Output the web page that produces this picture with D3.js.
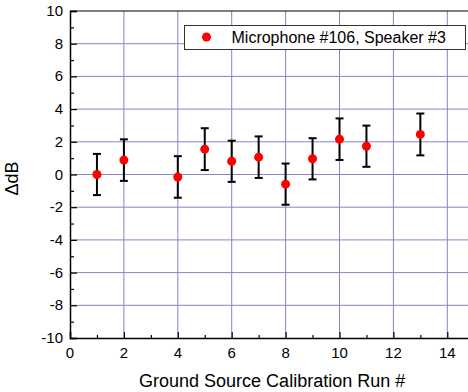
<!DOCTYPE html>
<html>
<head>
<meta charset="utf-8">
<script src="https://cdn.jsdelivr.net/npm/d3@7"></script>
<style>
  body { margin: 0; background: #fff; }
  svg { display: block; font-family: "Liberation Sans", Arial, sans-serif; }
</style>
</head>
<body>
<div id="chart"></div>
<script>
var runs = [1, 2, 4, 5, 6, 7, 8, 9, 10, 11, 13];
var deltaDb = [0.0, 0.88, -0.15, 1.55, 0.81, 1.06, -0.59, 0.96, 2.16, 1.73, 2.45];
var errDb = [1.26, 1.27, 1.27, 1.28, 1.26, 1.27, 1.26, 1.26, 1.27, 1.26, 1.28];
var xTicks = [0, 2, 4, 6, 8, 10, 12, 14];
var yTicks = [-10, -8, -6, -4, -2, 0, 2, 4, 6, 8, 10];
var seriesName = "Microphone #106, Speaker #3";

var width = 468, height = 392;
var margin = { top: 11, left: 70, bottom: 54 };
var plotBottom = height - margin.bottom;

var svg = d3.select("#chart").append("svg")
    .attr("width", width)
    .attr("height", height);

var x = d3.scaleLinear().domain([0, 15]).range([margin.left, margin.left + 15 * 26.95]);
var y = d3.scaleLinear().domain([-10, 10]).range([plotBottom, margin.top]);

var gridColor = "#8585c8";

// grid
svg.append("g").selectAll("line").data(yTicks.filter(function(d) { return d > -10 && d < 10; }))
    .enter().append("line")
    .attr("x1", margin.left).attr("x2", width)
    .attr("y1", function(d) { return y(d); }).attr("y2", function(d) { return y(d); })
    .attr("stroke", gridColor).attr("stroke-width", 1);
svg.append("g").selectAll("line").data(xTicks.filter(function(d) { return d > 0; }))
    .enter().append("line")
    .attr("y1", margin.top).attr("y2", plotBottom)
    .attr("x1", function(d) { return x(d); }).attr("x2", function(d) { return x(d); })
    .attr("stroke", gridColor).attr("stroke-width", 1);

// axes (ticks point inward)
svg.append("g")
    .attr("transform", "translate(" + margin.left + ",0)")
    .call(d3.axisRight(y).tickValues(yTicks).tickSize(7).tickFormat(""));
svg.append("g")
    .attr("transform", "translate(" + margin.left + ",0)")
    .call(d3.axisRight(y).tickValues(d3.range(-9, 10, 2)).tickSize(4).tickFormat(""))
    .select(".domain").remove();
svg.append("g")
    .attr("transform", "translate(0," + plotBottom + ")")
    .call(d3.axisTop(x).tickValues(xTicks).tickSize(6).tickFormat(""));
svg.append("g")
    .attr("transform", "translate(0," + plotBottom + ")")
    .call(d3.axisTop(x).tickValues(d3.range(1, 15, 2)).tickSize(3).tickFormat(""))
    .select(".domain").remove();
svg.selectAll(".domain").attr("stroke", "#000").attr("stroke-width", 1.5);
svg.selectAll(".tick line").attr("stroke", "#000").attr("stroke-width", 1.2);

// top frame line
svg.append("line")
    .attr("x1", margin.left).attr("x2", width)
    .attr("y1", margin.top).attr("y2", margin.top)
    .attr("stroke", "#000").attr("stroke-width", 1.2);

// tick labels
svg.append("g").selectAll("text").data(yTicks).enter().append("text")
    .attr("x", margin.left - 7)
    .attr("y", function(d) { return y(d) + 5; })
    .attr("text-anchor", "end")
    .style("font-size", "15px")
    .text(function(d) { return d; });
svg.append("g").selectAll("text").data(xTicks).enter().append("text")
    .attr("x", function(d) { return x(d); })
    .attr("y", plotBottom + 20)
    .attr("text-anchor", "middle")
    .style("font-size", "15px")
    .text(function(d) { return d; });

// axis titles
svg.append("text")
    .attr("x", (x(0) + x(15)) / 2)
    .attr("y", 387)
    .attr("text-anchor", "middle")
    .style("font-size", "18px")
    .text("Ground Source Calibration Run #");
svg.append("text")
    .attr("transform", "translate(18," + ((y(10) + y(-10)) / 2 + 4) + ") rotate(-90)")
    .attr("text-anchor", "middle")
    .style("font-size", "18px")
    .text("\u0394dB");

// error bars
var bars = svg.append("g").selectAll("g").data(runs).enter().append("g");
bars.append("line")
    .attr("x1", function(d) { return x(d); }).attr("x2", function(d) { return x(d); })
    .attr("y1", function(d, i) { return y(deltaDb[i] + errDb[i]); })
    .attr("y2", function(d, i) { return y(deltaDb[i] - errDb[i]); })
    .attr("stroke", "#000").attr("stroke-width", 2);
bars.append("line")
    .attr("x1", function(d) { return x(d) - 4; }).attr("x2", function(d) { return x(d) + 4; })
    .attr("y1", function(d, i) { return y(deltaDb[i] + errDb[i]); })
    .attr("y2", function(d, i) { return y(deltaDb[i] + errDb[i]); })
    .attr("stroke", "#000").attr("stroke-width", 2);
bars.append("line")
    .attr("x1", function(d) { return x(d) - 4; }).attr("x2", function(d) { return x(d) + 4; })
    .attr("y1", function(d, i) { return y(deltaDb[i] - errDb[i]); })
    .attr("y2", function(d, i) { return y(deltaDb[i] - errDb[i]); })
    .attr("stroke", "#000").attr("stroke-width", 2);
bars.append("circle")
    .attr("cx", function(d) { return x(d); })
    .attr("cy", function(d, i) { return y(deltaDb[i]); })
    .attr("r", 4.5)
    .attr("fill", "#ff0000");

// legend
var legend = svg.append("g").attr("transform", "translate(184.5,25.5)");
legend.append("rect")
    .attr("width", 281).attr("height", 24)
    .attr("fill", "#fff").attr("stroke", "#333").attr("stroke-width", 1);
legend.append("circle").attr("cx", 22).attr("cy", 11.5).attr("r", 4.5).attr("fill", "#ff0000");
legend.append("text")
    .attr("x", 47).attr("y", 17.5)
    .style("font-size", "16px")
    .text(seriesName);
</script>
</body>
</html>
